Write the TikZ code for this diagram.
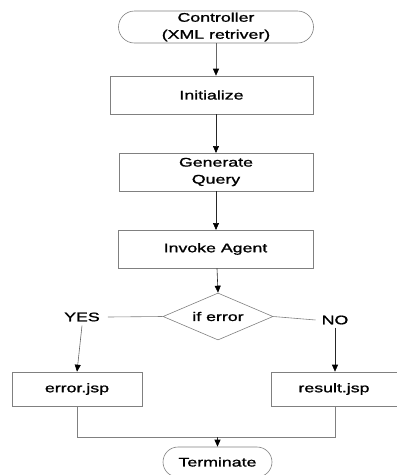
\documentclass[tikz,border=0pt]{standalone}
\usepackage{fontspec}
\setmainfont{Liberation Sans}[FakeStretch=1.42,FakeBold=1.3]
\usetikzlibrary{arrows.meta,shapes.geometric,calc}

\tikzset{
  base/.style={draw=black!50, line width=0.6pt, align=center, inner sep=0pt,
               font=\fontsize{12.5}{17}\selectfont},
  procbox/.style={base, rectangle},
  termbox/.style={base, rectangle, rounded corners=#1},
  decision/.style={base, diamond, aspect=2.35},
  flow/.style={draw=black!85, line width=0.6pt,
               -{Triangle[length=7pt,width=6pt,color=black]}},
  link/.style={draw=black!50, line width=0.6pt},
  lbl/.style={font=\fontsize{12.5}{15}\selectfont, inner sep=0pt}
}

\begin{document}
\begin{tikzpicture}[x=1pt, y=-1pt]
  \useasboundingbox (0,0) rectangle (397,475);

  % process steps
  \node[termbox=16pt, minimum width=195pt, minimum height=32pt] (ctrl) at (216,27) {Controller\\(XML retriver)};
  \node[procbox, minimum width=203pt, minimum height=38pt] (init) at (211.5,95) {Initialize};
  \node[procbox, minimum width=194pt, minimum height=38pt] (gen) at (216,172) {Generate\\Query};
  \node[procbox, minimum width=195pt, minimum height=38pt] (inv) at (215.5,249) {Invoke Agent};
  \node[decision, minimum width=110pt, minimum height=47pt] (dec) at (218,316.5) {if error};

  % branch labels
  \node[lbl] (yes) at (82,317) {YES};
  \node[lbl] (no) at (335,320) {NO};

  % outcome pages
  \node[procbox, minimum width=130pt, minimum height=34pt] (err) at (77,389) {error.jsp};
  \node[procbox, minimum width=126pt, minimum height=34pt] (res) at (334,389) {result.jsp};
  \node[termbox=15pt, minimum width=109pt, minimum height=30pt] (term) at (217.5,462) {Terminate};

  % join point above the end node
  \coordinate (join) at (217.5,437);

  % main flow
  \draw[flow, draw=black!60] (ctrl) -- (ctrl.south |- init.north);
  \draw[flow] (init.south -| 216,0) -- (216,153);
  \draw[flow] (gen.south -| 216,0) -- (216,230);
  \draw[flow] (inv.south -| 217,0) -- (dec.north);

  % decision branches
  \draw[link] (dec.west) -- ($(yes.east)+(8,0)$);
  \draw[flow, draw=black!60] ($(yes.south)+(0,4)$) -- (err.north);
  \draw[link] (dec.east) -- ($(no.west)+(-6,0)$);
  \draw[flow] ($(no.south)+(0,3)$) -- (no.south |- res.north);

  % merge into the end node
  \draw[link] (err.south) |- (join);
  \draw[link] (res.south -| no.south) |- (join);
  \draw[flow] (join) -- (term.north);
\end{tikzpicture}
\end{document}
